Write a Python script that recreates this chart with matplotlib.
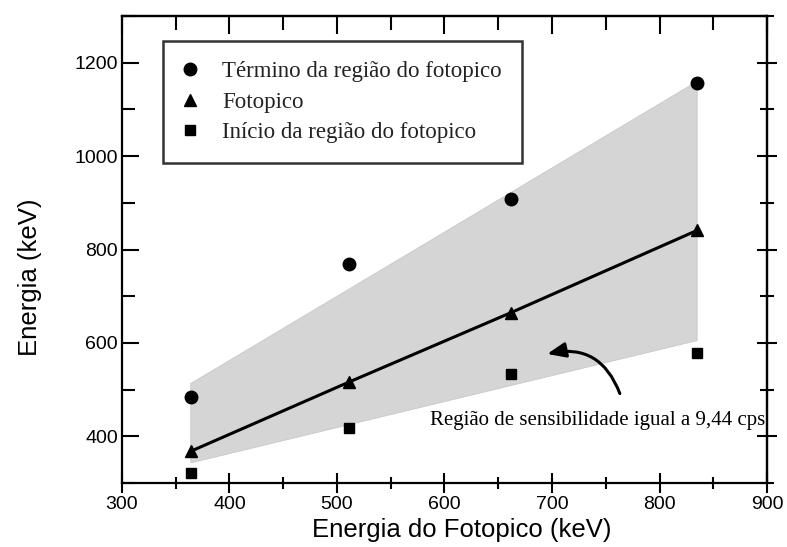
import matplotlib
matplotlib.use("Agg")
import matplotlib.pyplot as plt
from matplotlib.ticker import MultipleLocator

# energias dos fotopicos (keV)
energias = [364, 511, 662, 835]
termino = [485, 768, 909, 1157]
fotopico = [368, 516, 665, 841]
inicio = [321, 417, 533, 578]

# limites da região sombreada (sensibilidade igual a 9,44 cps)
faixa_x = [364, 835, 835, 364]
faixa_y = [513, 1160, 605, 343]

fig = plt.figure(figsize=(7.87, 5.47), dpi=100)
ax = fig.add_axes([0.155, 0.117, 0.8196, 0.8537])

ax.fill(faixa_x, faixa_y, facecolor="#d5d5d5", edgecolor="#c8c8c8", lw=0.6, zorder=1)
ax.plot(energias, fotopico, color="black", lw=2.2, zorder=2)

ax.plot(energias, termino, "o", color="black", ms=9, ls="none", zorder=3,
        label="Término da região do fotopico")
ax.plot(energias, fotopico, "^", color="black", ms=9, ls="none", zorder=3,
        label="Fotopico")
ax.plot(energias, inicio, "s", color="black", ms=7.5, ls="none", zorder=3,
        label="Início da região do fotopico")

ax.set_xlim(300, 900)
ax.set_ylim(300, 1300)
ax.xaxis.set_major_locator(MultipleLocator(100))
ax.xaxis.set_minor_locator(MultipleLocator(50))
ax.yaxis.set_major_locator(MultipleLocator(200))
ax.yaxis.set_minor_locator(MultipleLocator(100))

for s in ax.spines.values():
    s.set_linewidth(1.6)

sans = ["Liberation Sans", "DejaVu Sans"]
serif = ["Liberation Serif", "DejaVu Serif"]

ax.tick_params(axis="x", which="major", direction="inout", length=15, width=1.5,
               labelsize=14, pad=2)
ax.tick_params(axis="x", which="minor", direction="inout", length=9, width=1.5)
ax.tick_params(axis="y", which="major", direction="in", length=12, width=1.5,
               labelsize=14, pad=3)
ax.tick_params(axis="y", which="minor", direction="in", length=9, width=1.5)
for lab in ax.get_xticklabels() + ax.get_yticklabels():
    lab.set_family(sans)

top = ax.secondary_xaxis("top")
top.xaxis.set_major_locator(MultipleLocator(100))
top.xaxis.set_minor_locator(MultipleLocator(50))
top.tick_params(which="major", direction="in", length=13, width=1.5, labeltop=False)
top.tick_params(which="minor", direction="in", length=10, width=1.5)
top.spines["top"].set_linewidth(1.6)

right = ax.secondary_yaxis("right")
right.yaxis.set_major_locator(MultipleLocator(200))
right.yaxis.set_minor_locator(MultipleLocator(100))
right.tick_params(which="major", direction="inout", length=15, width=1.5, labelright=False)
right.tick_params(which="minor", direction="inout", length=10, width=1.5)
right.spines["right"].set_linewidth(1.6)

ax.set_xlabel("Energia do Fotopico (keV)", family=sans, fontsize=18.5)
ax.set_ylabel("Energia (keV)", family=sans, fontsize=18.5)
ax.xaxis.set_label_coords(0.527, -0.074)
ax.yaxis.set_label_coords(-0.124, 0.44)

leg = ax.legend(loc="upper left", bbox_to_anchor=(0.064, 0.947), frameon=True,
                fancybox=False, edgecolor="black", prop={"family": serif, "size": 16.5},
                handlelength=0.6, handletextpad=1.1, labelspacing=0.42,
                borderpad=0.88, borderaxespad=0)
leg.get_frame().set_linewidth(1.8)
leg.get_frame().set_boxstyle("square", pad=0)
for t in leg.get_texts():
    t.set_color("#222222")

ax.text(898, 433, "Região de sensibilidade igual a 9,44 cps", family=serif,
        fontsize=15, ha="right", va="center")
ax.annotate("", xy=(693, 575), xytext=(764, 486),
            arrowprops=dict(arrowstyle="-|>,head_length=1.1,head_width=0.45",
                            color="black", lw=2.2,
                            connectionstyle="arc3,rad=0.45"))

fig.savefig("out.png", dpi=100)
